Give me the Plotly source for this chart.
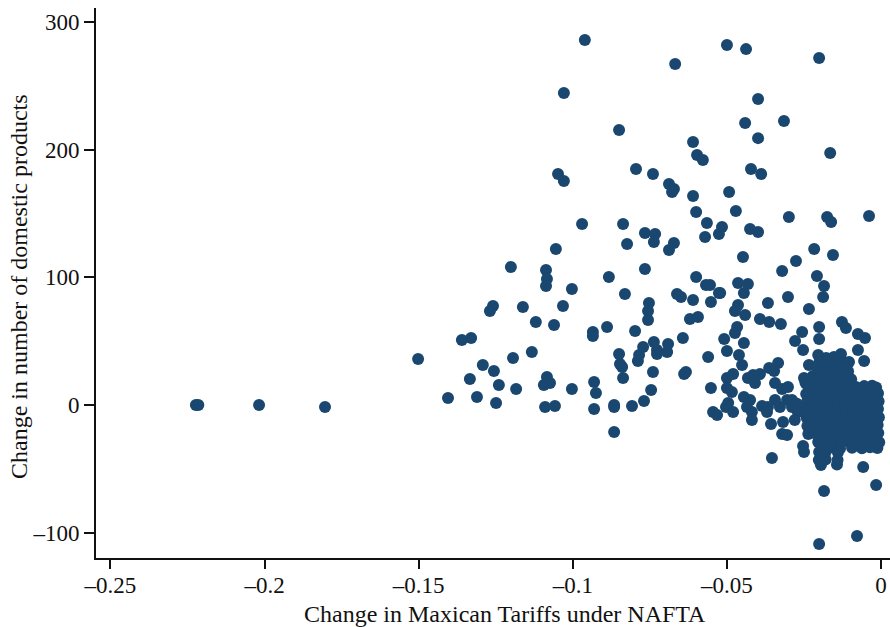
import plotly.graph_objects as go

x_far = [-0.2223, -0.2215, -0.2018, -0.1804]
y_far = [0, 0, 0, -1.6]

x_top = [-0.0961, -0.0668, -0.1029, -0.0850, -0.0610, -0.0597, -0.0578, -0.1048, -0.1029, -0.0795, -0.0740, -0.0688,
         -0.0672, -0.0678, -0.0610, -0.0600, -0.0565, -0.0970, -0.0837, -0.0766, -0.0733, -0.0571, -0.0516, -0.0526]
y_top = [285.8, 267, 244.3, 215.3, 205.9, 195.8, 191.8, 180.9, 175.4, 184.8, 180.9, 173,
         169.1, 166.8, 163.6, 151.1, 142.5, 141.7, 141.7, 134.7, 133.9, 131.5, 139.4, 133.9]

x_mid = [-0.1055, -0.0824, -0.0737, -0.0672, -0.0688, -0.0766, -0.1201, -0.1087, -0.1084, -0.1087, -0.1003, -0.0883,
         -0.0831, -0.0600, -0.0568, -0.0555, -0.0526, -0.0662, -0.0649, -0.0610, -0.0552, -0.1259, -0.1269, -0.1162,
         -0.1032, -0.1120, -0.1061, -0.0753, -0.0756, -0.0756, -0.0620, -0.0594, -0.0889, -0.0935, -0.0935, -0.0798,
         -0.0643, -0.1330, -0.1360, -0.1502, -0.1133, -0.1194, -0.1292, -0.1256, -0.1334, -0.1240, -0.1405, -0.1311,
         -0.1249, -0.1184, -0.1084, -0.1094, -0.1074, -0.1090, -0.1058, -0.1003, -0.0931, -0.0925, -0.0931, -0.0866,
         -0.0866, -0.0866, -0.0808, -0.0769, -0.0746, -0.0740, -0.0837, -0.0840, -0.0847, -0.0850, -0.0789, -0.0785,
         -0.0772, -0.0737, -0.0727, -0.0727, -0.0691, -0.0694, -0.0639, -0.0633, -0.0561, -0.0552, -0.0545, -0.0532]
y_mid = [122.1, 126.1, 127.6, 126.8, 121.4, 106.5, 108.1, 105.7, 98.7, 93.2, 90.8, 100.2,
         86.9, 100.2, 94, 94, 87.7, 86.9, 84.6, 82.2, 80.6, 77.5, 73.6, 76.7,
         77.5, 65, 62.6, 79.9, 73.6, 66.6, 67.3, 68.9, 61.1, 57.2, 54, 57.9,
         52.5, 52.5, 50.9, 36, 41.5, 36.8, 31.3, 26.6, 20.4, 15.7, 5.5, 6.3,
         1.6, 12.5, 21.9, 15.7, 17.2, -1.6, -0.8, 12.5, 18, 9.4, -3.1, 0,
         -1.6, -21.1, -0.8, 3.1, 11.7, 25.8, 21.1, 29.8, 32.1, 39.9, 34.5, 39.2,
         45.4, 49.3, 39.9, 43.1, 47.8, 41.5, 24.3, 25.8, 37.6, 13.3, -5.5, -7.8]

x_right = [-0.0500, -0.0438, -0.0201, -0.0399, -0.0441, -0.0315, -0.0399, -0.0165, -0.0422, -0.0389, -0.0493, -0.0471,
           -0.0299, -0.0175, -0.0162, -0.0039, -0.0425, -0.0399, -0.0448, -0.0217, -0.0156, -0.0276, -0.0321, -0.0208,
           -0.0185, -0.0188, -0.0302, -0.0367, -0.0234, -0.0464, -0.0432, -0.0445, -0.0522, -0.0464, -0.0474, -0.0441,
           -0.0393, -0.0363, -0.0325, -0.0201, -0.0201, -0.0127, -0.0114, -0.0075, -0.0052, -0.0256, -0.0279, -0.0253,
           -0.0467, -0.0474, -0.0509, -0.0445, -0.0500, -0.0461, -0.0451, -0.0075, -0.0055, -0.0234, -0.0334, -0.0363,
           -0.0347, -0.0393, -0.0415, -0.0432, -0.0409, -0.0480, -0.0500, -0.0500, -0.0484, -0.0344, -0.0321, -0.0302,
           -0.0247, -0.0445, -0.0425, -0.0435, -0.0419, -0.0419, -0.0496, -0.0480, -0.0503, -0.0386, -0.0367, -0.0344,
           -0.0305, -0.0328, -0.0370, -0.0318, -0.0357, -0.0321, -0.0305, -0.0253, -0.0250, -0.0354, -0.0058, -0.0185,
           -0.0016, -0.0201, -0.0078]
y_right = [281.9, 278.7, 271.7, 239.6, 220.8, 222.4, 209, 197.3, 184.8, 180.9, 166.8, 151.9,
           147.2, 147.2, 143.3, 148, 137.8, 135.5, 115.9, 122.1, 117.5, 112.8, 104.9, 101,
           93.2, 84.6, 84.6, 79.9, 75.2, 95.5, 94.7, 87.7, 87.7, 78.3, 73.6, 70.5,
           67.3, 65, 63.4, 61.1, 51.7, 65, 60.3, 55.6, 52.5, 57.2, 50.1, 43.1,
           61.1, 56.4, 51.7, 48.5, 42.3, 39.2, 31.3, 43.1, 34.5, 31.3, 32.9, 29,
           26.6, 24.3, 23.5, 21.1, 17.2, 24.3, 21.1, 13.3, 10.2, 17.2, 12.5, 14.1,
           19.6, 6.3, 3.9, -1.6, -5.5, -11.7, 1.6, -5.5, -1.6, -0.8, -1.6, 3.9,
           3.9, -1.6, -5.5, -13.3, -14.9, -22.7, -23.5, -32.1, -36.8, -41.5, -48.5, -67.3,
           -62.6, -108.8, -102.6]

x_cluster = [-0.0204, -0.0178, -0.0153, -0.0130, -0.0104, -0.0221,
             -0.0200, -0.0172, -0.0148, -0.0125, -0.0108,
             -0.0204, -0.0178, -0.0153, -0.0127, -0.0107,
             -0.0224, -0.0198, -0.0172, -0.0146, -0.0120, -0.0097,
             -0.0237, -0.0211, -0.0185, -0.0159, -0.0133, -0.0107, -0.0081, -0.0055, -0.0029, -0.0016,
             -0.0243, -0.0217, -0.0191, -0.0165, -0.0140, -0.0114, -0.0088, -0.0062, -0.0036, -0.0010,
             -0.0240, -0.0215, -0.0193, -0.0163, -0.0138, -0.0116, -0.0086, -0.0064, -0.0034, -0.0008,
             -0.0244, -0.0219, -0.0189, -0.0167, -0.0141, -0.0112, -0.0090, -0.0060, -0.0037, -0.0010,
             -0.0241, -0.0216, -0.0192, -0.0164, -0.0139, -0.0115, -0.0087, -0.0063, -0.0035, -0.0007,
             -0.0239, -0.0218, -0.0190, -0.0166, -0.0142, -0.0113, -0.0089, -0.0061, -0.0038, -0.0011,
             -0.0236, -0.0214, -0.0187, -0.0162, -0.0137, -0.0110, -0.0085, -0.0059, -0.0033, -0.0009,
             -0.0204, -0.0178, -0.0153, -0.0127, -0.0101, -0.0075, -0.0049, -0.0023, -0.0006,
             -0.0185, -0.0159, -0.0133, -0.0094, -0.0062, -0.0036, -0.0012,
             -0.0201, -0.0181, -0.0202, -0.0180, -0.0195, -0.0140, -0.0141, -0.0143,
             -0.0289, -0.0273, -0.0289, -0.0270, -0.0280, -0.0245, -0.0250]
y_cluster = [39.2, 36.8, 37.6, 39.9, 33.7, 22.7,
             33.7, 34.2, 33.1, 33.9, 33.0,
             27.4, 27.9, 26.8, 27.2, 26.5,
             21.1, 21.6, 20.7, 21.3, 20.9, 20.2,
             14.9, 15.3, 14.4, 15.1, 14.7, 15.4, 14.2, 14.8, 15.0, 13.8,
             8.6, 9.1, 8.2, 8.8, 8.4, 9.0, 8.1, 8.7, 8.5, 9.2,
             2.3, 2.8, 1.9, 2.6, 2.1, 2.9, 1.7, 2.4, 2.2, 3.0,
             -3.9, -3.4, -4.3, -3.7, -4.1, -3.3, -4.5, -3.8, -4.0, -3.2,
             -10.2, -9.7, -10.6, -10.0, -10.4, -9.6, -10.8, -10.1, -10.3, -9.5,
             -16.4, -15.9, -16.8, -16.2, -16.6, -15.8, -17.0, -16.3, -16.5, -15.7,
             -22.7, -22.2, -23.1, -22.5, -22.9, -22.1, -23.3, -22.6, -22.8, -22.0,
             -29.0, -28.5, -29.4, -28.8, -29.2, -28.4, -29.6, -28.9, -29.1,
             -33.7, -33.2, -34.1, -33.5, -33.9, -33.1, -33.6,
             -36.8, -37.2, -43.1, -42.7, -47.0, -36.9, -43.0, -46.6,
             3.9, 1.0, -1.6, -5.5, -11.7, 17.2, 21.1]

x_ticks = [-0.25, -0.2, -0.15, -0.1, -0.05, 0]
x_labels = ["–0.25", "–0.2", "–0.15", "–0.1", "–0.05", "0"]
y_ticks = [-100, 0, 100, 200, 300]
y_labels = ["–100", "0", "100", "200", "300"]
x_title = "Change in Maxican Tariffs under NAFTA"
y_title = "Change in number of domestic products"

x_all = x_far + x_top + x_mid + x_right + x_cluster
y_all = y_far + y_top + y_mid + y_right + y_cluster

FONT = "Liberation Serif"
INK = "#111111"
fig = go.Figure(go.Scatter(x=x_all, y=y_all, mode="markers",
                           marker=dict(size=12, color="#1a476f", line=dict(width=0)),
                           cliponaxis=False))
fig.update_layout(
    width=890, height=627, margin=dict(l=96, r=0, t=8, b=69),
    paper_bgcolor="white", plot_bgcolor="white", showlegend=False,
    font=dict(family=FONT, color=INK),
    xaxis=dict(range=[-0.2547, 0.0029], tickmode="array", tickvals=x_ticks, ticktext=x_labels,
               showgrid=False, zeroline=False, showline=True, linecolor=INK, linewidth=2,
               ticks="outside", ticklen=9, tickwidth=1.5, tickcolor=INK, ticklabelstandoff=-4,
               tickfont=dict(size=23, family=FONT, color=INK)),
    yaxis=dict(range=[-119.8, 310.9], tickmode="array", tickvals=y_ticks, ticktext=y_labels,
               showgrid=False, zeroline=False, showline=True, linecolor=INK, linewidth=2,
               ticks="outside", ticklen=10, tickwidth=2, tickcolor=INK,
               tickfont=dict(size=23, family=FONT, color=INK)),
    annotations=[
        dict(text=x_title, xref="paper", yref="paper", x=0.515, y=-0.1018, xanchor="center", yanchor="middle",
             showarrow=False, font=dict(size=24, family=FONT, color=INK)),
        dict(text=y_title, xref="paper", yref="paper", x=-0.097, y=0.4945, xanchor="center", yanchor="middle",
             textangle=-90, showarrow=False, font=dict(size=24, family=FONT, color=INK)),
    ],
)
fig.write_html("out.html", config=dict(displayModeBar=False), post_script="document.body.style.margin='0';")
